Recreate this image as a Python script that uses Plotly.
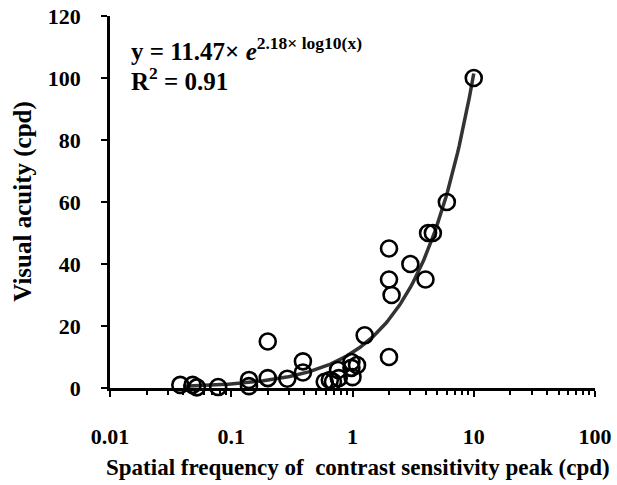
import numpy as np
import plotly.graph_objects as go

# Data
sf_peak = [0.038, 0.048, 0.052, 0.078, 0.14, 0.14, 0.2, 0.2, 0.29, 0.39, 0.39,
           0.59, 0.65, 0.69, 0.76, 0.77, 0.98, 0.98, 1.0, 1.09, 1.26,
           2.0, 2.0, 2.1, 2.0, 3.0, 4.0, 4.2, 4.6, 6.0, 10.0]
acuity = [1.0, 1.0, 0.2, 0.3, 2.6, 0.6, 15.0, 3.2, 3.0, 8.6, 5.0,
          2.0, 2.6, 2.0, 5.8, 3.2, 8.4, 6.5, 3.5, 7.4, 17.0,
          45.0, 35.0, 30.0, 10.0, 40.0, 35.0, 50.0, 50.0, 60.0, 100.0]
fit_a = 11.47
fit_b = 2.18
fit_xmin, fit_xmax = 0.04, 10.0
x_tickvals = [0.01, 0.1, 1, 10, 100]
x_ticktext = ["0.01", "0.1", "1", "10", "100"]
y_tickvals = [0, 20, 40, 60, 80, 100, 120]

fit_x = np.logspace(np.log10(fit_xmin), np.log10(fit_xmax), 200)
fit_y = fit_a * np.exp(fit_b * np.log10(fit_x))

font = "Liberation Serif, Times New Roman, serif"

fig = go.Figure()
fig.add_trace(go.Scatter(x=fit_x, y=fit_y, mode="lines",
                         line=dict(color="#333333", width=3.5),
                         hoverinfo="skip", cliponaxis=False))
fig.add_trace(go.Scatter(x=sf_peak, y=acuity, mode="markers",
                         marker=dict(symbol="circle-open", size=16,
                                     color="black", line=dict(width=2.6, color="black")),
                         cliponaxis=False))

fig.update_layout(
    width=617, height=485,
    margin=dict(l=110, r=22, t=16, b=97, autoexpand=False),
    paper_bgcolor="white", plot_bgcolor="white",
    showlegend=False,
    font=dict(family=font, color="black"),
)
fig.update_xaxes(
    type="log", range=[-2, 2], automargin=False,
    tickvals=x_tickvals, ticktext=x_ticktext,
    ticks="outside", ticklen=6, tickwidth=2, tickcolor="black",
    minor=dict(ticks="outside", ticklen=4, tickwidth=1.5, tickcolor="black",
               dtick="D1", showgrid=False),
    showline=True, linecolor="black", linewidth=2.5,
    showgrid=False, zeroline=False,
    tickfont=dict(size=22, family=font, color="black", weight="bold"),
    ticklabelstandoff=21,
)
fig.update_yaxes(
    range=[0, 120], tickvals=y_tickvals, automargin=False,
    ticks="outside", ticklen=6, tickwidth=2, tickcolor="black",
    showline=True, linecolor="black", linewidth=2.5,
    showgrid=False, zeroline=False,
    tickfont=dict(size=22, family=font, color="black", weight="bold"),
    ticklabelstandoff=16,
)

# Axis titles
fig.add_annotation(
    xref="paper", yref="paper", x=0.511, y=-0.215, xanchor="center", yanchor="middle",
    text="<b>Spatial frequency of&nbsp; contrast sensitivity peak (cpd)</b>",
    showarrow=False, font=dict(size=23, family=font, color="black"),
)
fig.add_annotation(
    xref="paper", yref="paper", x=-0.18, y=0.50, xanchor="center", yanchor="middle",
    text="<b>Visual acuity (cpd)</b>", textangle=-90,
    showarrow=False, font=dict(size=25, family=font, color="black"),
)

fig.add_annotation(
    xref="paper", yref="paper", x=0.04, y=0.912, xanchor="left", yanchor="middle",
    text="<b>y = 11.47× <i>e</i><sup style='font-size:10px'>2.18× log10(x)</sup></b>",
    showarrow=False, font=dict(size=25, family=font, color="black"),
)
fig.add_annotation(
    xref="paper", yref="paper", x=0.04, y=0.83, xanchor="left", yanchor="middle",
    text="<b>R<sup style='font-size:11px'>2</sup> = 0.91</b>",
    showarrow=False, font=dict(size=25, family=font, color="black"),
)

fig.write_html("out.html", config={"displayModeBar": False},
               post_script="document.body.style.margin='0';document.body.style.padding='0';")
